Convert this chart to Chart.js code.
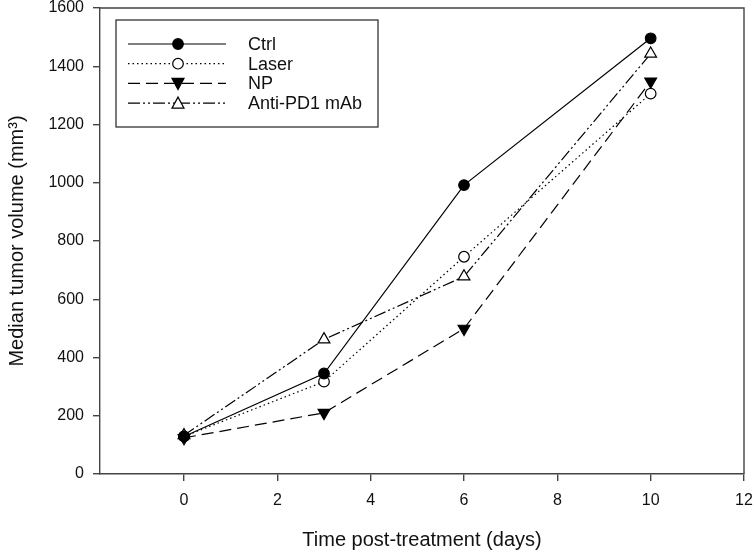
<!DOCTYPE html>
<html lang="en">
<head>
  <meta charset="UTF-8" />
  <title>Median tumor volume</title>
  <style>
    * { margin: 0; padding: 0; box-sizing: border-box; }
    body { background: white; }
    canvas { display: block; }
  </style>
</head>
<body>
  <canvas id="chartCanvas" width="754" height="552"></canvas>

  <script src="https://cdn.jsdelivr.net/npm/chart.js"></script>
  <script>
    // data
    const days = [0, 3, 6, 10];
    const ctrl = [129, 345, 992, 1496];
    const laser = [129, 317, 746, 1306];
    const np = [124, 210, 499, 1348];
    const antiPD1 = [133, 462, 678, 1443];
    const seriesNames = ['Ctrl', 'Laser', 'NP', 'Anti-PD1 mAb'];
    const xTicks = [0, 2, 4, 6, 8, 10, 12];
    const yTicks = [0, 200, 400, 600, 800, 1000, 1200, 1400, 1600];

    const font = "'Liberation Sans', Arial, sans-serif";

    function pts(arr) {
      return days.map((d, i) => ({ x: d, y: arr[i] }));
    }

    // marker drawing for the legend
    function marker(ctx, kind, x, y) {
      ctx.save();
      ctx.setLineDash([]);
      ctx.lineWidth = 1.2;
      ctx.strokeStyle = '#000';
      ctx.beginPath();
      if (kind === 'dot' || kind === 'ring') {
        ctx.arc(x, y, 5.3, 0, Math.PI * 2);
      } else if (kind === 'down') {
        ctx.moveTo(x - 6, y - 5);
        ctx.lineTo(x + 6, y - 5);
        ctx.lineTo(x, y + 6);
        ctx.closePath();
      } else {
        ctx.moveTo(x - 6, y + 5);
        ctx.lineTo(x + 6, y + 5);
        ctx.lineTo(x, y - 6);
        ctx.closePath();
      }
      ctx.fillStyle = (kind === 'dot' || kind === 'down') ? '#000' : '#fff';
      ctx.fill();
      ctx.stroke();
      ctx.restore();
    }

    const kinds = ['dot', 'ring', 'down', 'up'];

    const boxAndLegend = {
      id: 'boxAndLegend',
      afterDraw(chart) {
        const ctx = chart.ctx;
        const a = chart.chartArea;
        ctx.save();
        ctx.strokeStyle = '#444';
        ctx.lineWidth = 1.4;
        ctx.beginPath();
        ctx.moveTo(a.left, a.top);
        ctx.lineTo(a.right, a.top);
        ctx.lineTo(a.right, a.bottom);
        ctx.stroke();

        // legend box
        const bx = 116, by = 20, bw = 262, bh = 107;
        ctx.lineWidth = 1.2;
        ctx.strokeStyle = '#222';
        ctx.strokeRect(bx, by, bw, bh);
        ctx.font = '18px ' + font;
        ctx.fillStyle = '#111';
        ctx.textBaseline = 'middle';
        chart.data.datasets.forEach((ds, i) => {
          const y = 44 + i * 19.7;
          ctx.save();
          ctx.strokeStyle = '#000';
          ctx.lineWidth = 1.2;
          ctx.setLineDash(ds.borderDash || []);
          ctx.beginPath();
          ctx.moveTo(128, y);
          ctx.lineTo(226, y);
          ctx.stroke();
          ctx.restore();
          marker(ctx, kinds[i], 178, y);
          ctx.fillText(seriesNames[i], 248, y + 1);
        });
        ctx.restore();
      }
    };

    function ds(label, arr, dash, style, fill, rot) {
      return {
        label: label,
        data: pts(arr),
        borderColor: '#000',
        borderWidth: 1.2,
        borderDash: dash,
        pointStyle: style,
        pointRadius: style === 'circle' ? 5.3 : 6.8,
        pointRotation: rot,
        pointBackgroundColor: fill,
        pointBorderColor: '#000',
        pointBorderWidth: 1.2,
        tension: 0,
        fill: false
      };
    }

    const chart = new Chart(document.getElementById('chartCanvas'), {
      type: 'scatter',
      data: {
        datasets: [
          ds('Ctrl', ctrl, [], 'circle', '#000', 0),
          ds('Laser', laser, [1.5, 3], 'circle', '#fff', 0),
          ds('NP', np, [12, 6], 'triangle', '#000', 180),
          ds('Anti-PD1 mAb', antiPD1, [12, 3, 2, 3, 2, 3], 'triangle', '#fff', 0)
        ]
      },
      options: {
        responsive: false,
        animation: false,
        showLine: true,
        layout: { padding: { top: 6, right: 10, left: 0, bottom: 0 } },
        plugins: { legend: { display: false }, tooltip: { enabled: false } },
        scales: {
          x: {
            type: 'linear',
            min: -1.8,
            max: 12,
            afterFit(s) {
              s.height = 78;
              s.paddingLeft = 0;
              s.paddingRight = 0;
            },
            afterBuildTicks(s) { s.ticks = xTicks.map(v => ({ value: v })); },
            ticks: {
              color: '#111',
              font: { family: font, size: 16 },
              padding: 10,
              maxRotation: 0,
              callback: v => String(v)
            },
            grid: { drawOnChartArea: false, drawTicks: true, tickLength: 7, color: '#444', lineWidth: 1.4 },
            border: { color: '#444', width: 1.4 },
            title: {
              display: true,
              text: 'Time post-treatment (days)',
              color: '#111',
              font: { family: font, size: 20 },
              padding: { top: 10, bottom: 0 }
            }
          },
          y: {
            min: 0,
            max: 1600,
            afterFit(s) {
              s.width = 100;
              s.paddingTop = 0;
              s.paddingBottom = 0;
            },
            afterBuildTicks(s) { s.ticks = yTicks.map(v => ({ value: v })); },
            ticks: {
              color: '#111',
              font: { family: font, size: 16 },
              padding: 9,
              callback: v => String(v)
            },
            grid: { drawOnChartArea: false, drawTicks: true, tickLength: 7, color: '#444', lineWidth: 1.4 },
            border: { color: '#444', width: 1.4 },
            title: {
              display: true,
              text: 'Median tumor volume (mm\u00b3)',
              color: '#111',
              font: { family: font, size: 20 },
              padding: { top: 5, bottom: 4 }
            }
          }
        }
      },
      plugins: [boxAndLegend]
    });
  </script>
</body>
</html>
